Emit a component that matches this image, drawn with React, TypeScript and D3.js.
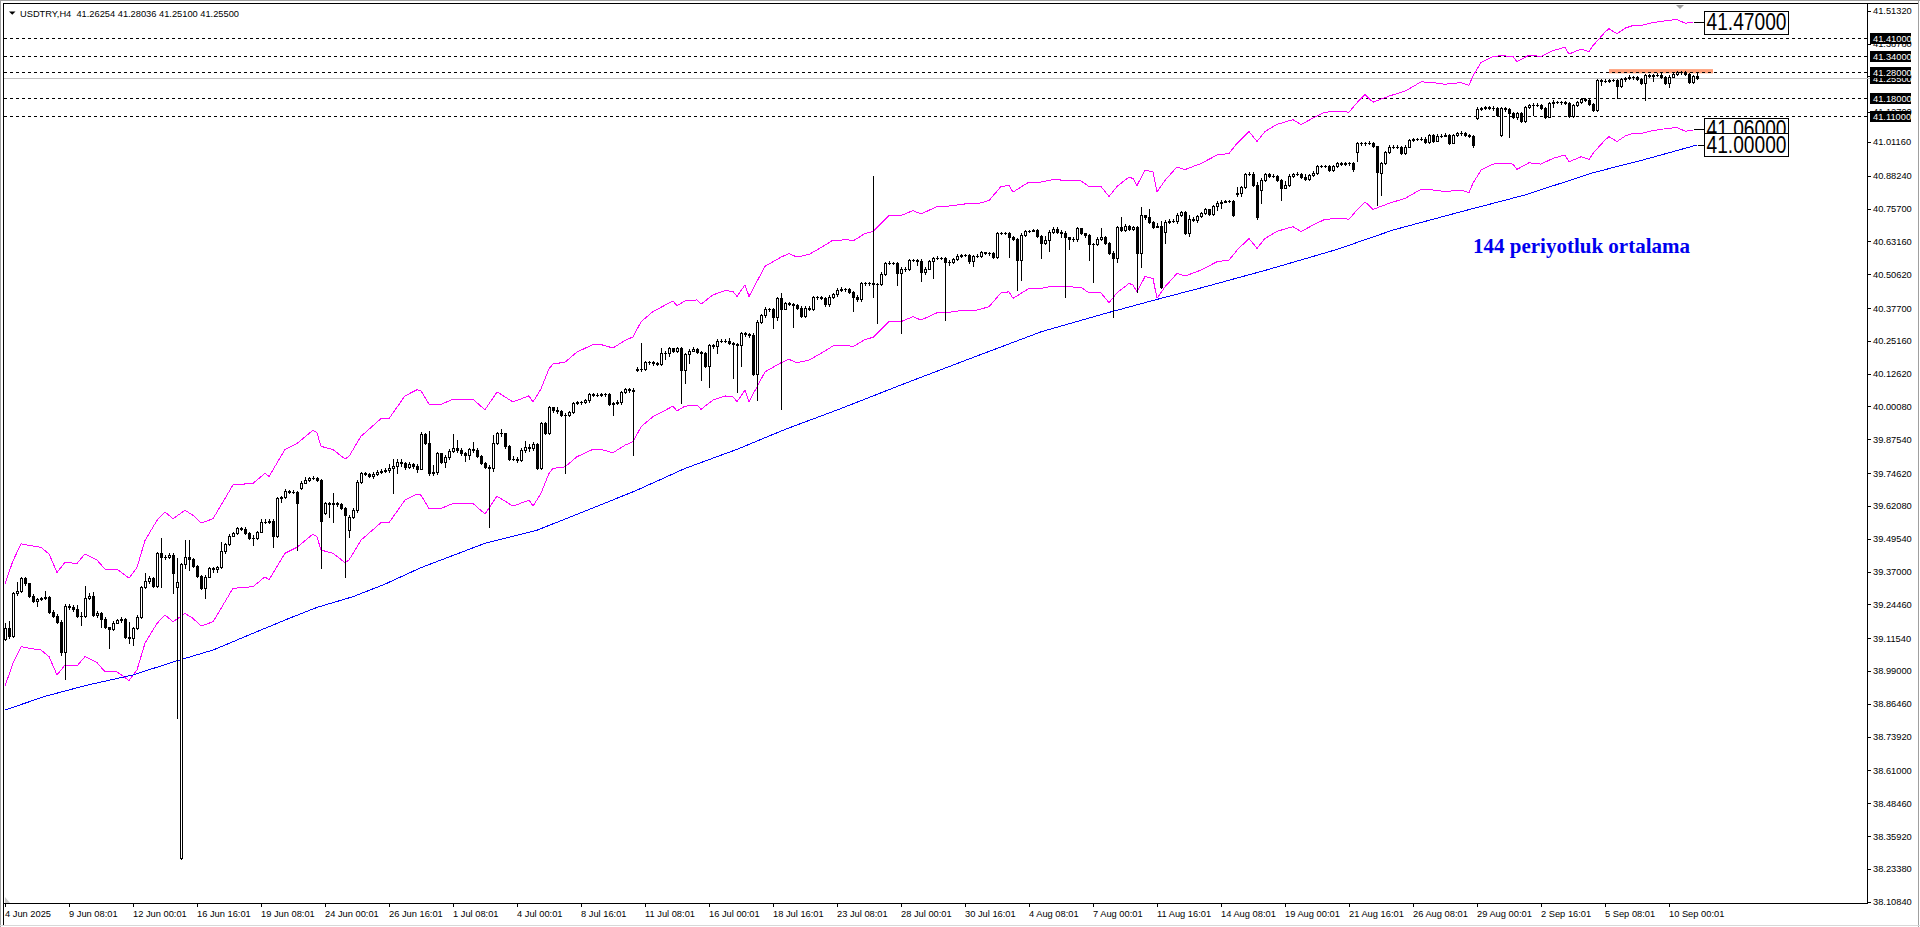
import React, { useEffect, useRef } from 'react';
import * as d3 from 'd3';

const W = 1920;
const H = 927;
const AXIS_X = 1867; // right price scale
const AXIS_Y = 903; // bottom time scale
const FONT = '"Liberation Sans", Arial, sans-serif';

// H4 candles, oldest first (4 Jun 2025 16:00 .. 11 Sep 2025 04:00)
const closes = [
  39.153, 39.125, 39.287, 39.297, 39.344, 39.325, 39.277, 39.259, 39.264, 39.268,
  39.271, 39.217, 39.201, 39.178, 39.064, 39.238, 39.236, 39.226, 39.201, 39.200,
  39.268, 39.277, 39.204, 39.213, 39.187, 39.157, 39.149, 39.175, 39.185, 39.187,
  39.121, 39.115, 39.153, 39.198, 39.310, 39.335, 39.344, 39.315, 39.440, 39.424,
  39.424, 39.433, 39.363, 39.331, 39.398, 39.427, 39.417, 39.391, 39.353, 39.306,
  39.350, 39.382, 39.378, 39.386, 39.450, 39.475, 39.507, 39.516, 39.535, 39.533,
  39.519, 39.499, 39.497, 39.522, 39.561, 39.561, 39.564, 39.506, 39.650, 39.654,
  39.679, 39.674, 39.674, 39.633, 39.710, 39.720, 39.726, 39.727, 39.720, 39.564,
  39.631, 39.628, 39.631, 39.627, 39.612, 39.586, 39.580, 39.605, 39.713, 39.745,
  39.743, 39.735, 39.743, 39.752, 39.755, 39.758, 39.765, 39.775, 39.790, 39.785,
  39.770, 39.780, 39.775, 39.762, 39.894, 39.862, 39.745, 39.751, 39.822, 39.790,
  39.806, 39.832, 39.844, 39.834, 39.822, 39.815, 39.837, 39.834, 39.811, 39.786,
  39.770, 39.764, 39.862, 39.898, 39.898, 39.849, 39.802, 39.802, 39.798, 39.834,
  39.847, 39.841, 39.857, 39.764, 39.936, 39.900, 39.997, 39.987, 39.984, 39.970,
  39.968, 39.979, 40.015, 40.018, 40.018, 40.024, 40.047, 40.046, 40.044, 40.047,
  40.047, 40.012, 40.015, 40.018, 40.057, 40.066, 40.063, 40.061, 40.144, 40.144,
  40.169, 40.169, 40.168, 40.163, 40.204, 40.207, 40.223, 40.214, 40.223, 40.140,
  40.201, 40.214, 40.219, 40.209, 40.206, 40.155, 40.234, 40.232, 40.252, 40.252,
  40.251, 40.244, 40.239, 40.235, 40.280, 40.277, 40.274, 40.125, 40.325, 40.350,
  40.375, 40.372, 40.344, 40.414, 40.375, 40.395, 40.392, 40.388, 40.379, 40.346,
  40.379, 40.375, 40.418, 40.418, 40.416, 40.391, 40.420, 40.430, 40.446, 40.449,
  40.448, 40.440, 40.420, 40.410, 40.474, 40.471, 40.471, 40.467, 40.469, 40.507,
  40.550, 40.550, 40.548, 40.512, 40.525, 40.525, 40.560, 40.560, 40.558, 40.516,
  40.528, 40.556, 40.569, 40.569, 40.568, 40.553, 40.554, 40.563, 40.576, 40.578,
  40.578, 40.555, 40.576, 40.577, 40.590, 40.588, 40.586, 40.573, 40.662, 40.662,
  40.662, 40.649, 40.640, 40.560, 40.656, 40.672, 40.672, 40.675, 40.652, 40.624,
  40.637, 40.669, 40.680, 40.667, 40.665, 40.647, 40.642, 40.639, 40.681, 40.662,
  40.655, 40.621, 40.621, 40.642, 40.647, 40.627, 40.588, 40.567, 40.685, 40.677,
  40.691, 40.680, 40.685, 40.586, 40.732, 40.723, 40.707, 40.688, 40.690, 40.458,
  40.707, 40.708, 40.711, 40.732, 40.745, 40.665, 40.719, 40.713, 40.728, 40.739,
  40.754, 40.736, 40.767, 40.779, 40.783, 40.786, 40.786, 40.732, 40.818, 40.838,
  40.889, 40.889, 40.847, 40.723, 40.866, 40.889, 40.881, 40.881, 40.866, 40.834,
  40.847, 40.883, 40.889, 40.889, 40.879, 40.870, 40.884, 40.894, 40.920, 40.920,
  40.920, 40.904, 40.920, 40.930, 40.927, 40.930, 40.930, 40.907, 41.006, 41.006,
  41.006, 41.009, 40.996, 40.898, 40.930, 40.974, 40.994, 40.994, 40.994, 40.968,
  40.994, 41.019, 41.022, 41.023, 41.024, 41.011, 41.038, 41.017, 41.034, 41.036,
  41.038, 41.009, 41.038, 41.045, 41.047, 41.038, 41.034, 41.000, 41.137, 41.140,
  41.144, 41.143, 41.140, 41.115, 41.140, 41.136, 41.121, 41.108, 41.121, 41.093,
  41.144, 41.153, 41.153, 41.153, 41.140, 41.108, 41.159, 41.166, 41.164, 41.163,
  41.162, 41.111, 41.153, 41.164, 41.174, 41.172, 41.157, 41.134, 41.248, 41.245,
  41.246, 41.247, 41.248, 41.225, 41.251, 41.255, 41.261, 41.259, 41.252, 41.236,
  41.267, 41.264, 41.267, 41.269, 41.261, 41.238, 41.261, 41.271, 41.280, 41.278,
  41.271, 41.242, 41.264, 41.255,
];

const highs = [
  39.172, 39.182, 39.293, 39.331, 39.350, 39.350, 39.325, 39.284, 39.268, 39.274,
  39.296, 39.277, 39.223, 39.208, 39.185, 39.245, 39.245, 39.242, 39.242, 39.217,
  39.315, 39.287, 39.293, 39.220, 39.217, 39.198, 39.159, 39.182, 39.190, 39.198,
  39.191, 39.178, 39.159, 39.203, 39.315, 39.363, 39.353, 39.348, 39.446, 39.497,
  39.433, 39.440, 39.440, 39.420, 39.401, 39.491, 39.491, 39.420, 39.395, 39.357,
  39.357, 39.386, 39.389, 39.391, 39.484, 39.480, 39.512, 39.522, 39.541, 39.539,
  39.539, 39.521, 39.508, 39.526, 39.570, 39.570, 39.570, 39.570, 39.654, 39.659,
  39.684, 39.682, 39.682, 39.679, 39.716, 39.733, 39.733, 39.735, 39.730, 39.722,
  39.637, 39.637, 39.671, 39.637, 39.631, 39.615, 39.586, 39.612, 39.720, 39.752,
  39.752, 39.748, 39.752, 39.758, 39.762, 39.764, 39.780, 39.800, 39.802, 39.800,
  39.790, 39.790, 39.785, 39.780, 39.904, 39.898, 39.908, 39.777, 39.828, 39.824,
  39.815, 39.837, 39.895, 39.872, 39.841, 39.828, 39.844, 39.866, 39.841, 39.815,
  39.790, 39.777, 39.891, 39.904, 39.913, 39.900, 39.853, 39.811, 39.809, 39.841,
  39.870, 39.857, 39.866, 39.862, 39.942, 39.942, 40.002, 40.000, 39.997, 39.987,
  39.974, 39.984, 40.019, 40.023, 40.023, 40.028, 40.051, 40.051, 40.051, 40.051,
  40.051, 40.051, 40.019, 40.025, 40.061, 40.071, 40.070, 40.070, 40.153, 40.242,
  40.173, 40.174, 40.173, 40.170, 40.223, 40.212, 40.227, 40.223, 40.229, 40.227,
  40.206, 40.219, 40.227, 40.223, 40.214, 40.210, 40.239, 40.239, 40.257, 40.257,
  40.257, 40.261, 40.248, 40.244, 40.285, 40.284, 40.282, 40.280, 40.331, 40.356,
  40.382, 40.379, 40.379, 40.420, 40.435, 40.400, 40.400, 40.397, 40.392, 40.384,
  40.384, 40.384, 40.423, 40.423, 40.423, 40.420, 40.425, 40.435, 40.453, 40.456,
  40.454, 40.452, 40.442, 40.427, 40.477, 40.477, 40.477, 40.881, 40.474, 40.516,
  40.554, 40.555, 40.554, 40.553, 40.532, 40.535, 40.565, 40.565, 40.565, 40.563,
  40.535, 40.560, 40.573, 40.574, 40.573, 40.572, 40.560, 40.568, 40.582, 40.583,
  40.583, 40.582, 40.581, 40.582, 40.595, 40.593, 40.592, 40.592, 40.667, 40.669,
  40.669, 40.669, 40.654, 40.646, 40.662, 40.677, 40.677, 40.680, 40.679, 40.656,
  40.652, 40.675, 40.685, 40.685, 40.675, 40.671, 40.649, 40.649, 40.688, 40.683,
  40.665, 40.660, 40.627, 40.647, 40.681, 40.652, 40.630, 40.596, 40.690, 40.726,
  40.697, 40.694, 40.690, 40.690, 40.762, 40.734, 40.755, 40.711, 40.703, 40.711,
  40.713, 40.716, 40.718, 40.739, 40.749, 40.748, 40.731, 40.726, 40.734, 40.744,
  40.759, 40.756, 40.772, 40.787, 40.790, 40.791, 40.791, 40.788, 40.838, 40.843,
  40.894, 40.897, 40.895, 40.860, 40.872, 40.894, 40.894, 40.889, 40.887, 40.871,
  40.862, 40.889, 40.894, 40.896, 40.893, 40.888, 40.889, 40.899, 40.925, 40.925,
  40.925, 40.924, 40.925, 40.935, 40.934, 40.935, 40.935, 40.934, 41.011, 41.013,
  41.011, 41.015, 41.013, 40.998, 40.935, 40.978, 40.999, 40.999, 41.000, 40.997,
  40.999, 41.024, 41.028, 41.028, 41.029, 41.031, 41.043, 41.041, 41.041, 41.041,
  41.045, 41.041, 41.043, 41.050, 41.052, 41.050, 41.042, 41.037, 41.144, 41.146,
  41.149, 41.149, 41.148, 41.144, 41.146, 41.144, 41.140, 41.126, 41.126, 41.125,
  41.149, 41.158, 41.159, 41.159, 41.158, 41.144, 41.164, 41.171, 41.169, 41.169,
  41.168, 41.166, 41.158, 41.169, 41.180, 41.178, 41.176, 41.162, 41.253, 41.253,
  41.252, 41.253, 41.253, 41.252, 41.256, 41.260, 41.266, 41.265, 41.264, 41.257,
  41.273, 41.271, 41.273, 41.274, 41.274, 41.265, 41.266, 41.276, 41.284, 41.284,
  41.281, 41.275, 41.269, 41.28036,
];

const lows = [
  39.108, 39.115, 39.121, 39.280, 39.293, 39.319, 39.274, 39.255, 39.238, 39.261,
  39.264, 39.213, 39.198, 39.172, 39.051, 38.958, 39.226, 39.221, 39.198, 39.166,
  39.198, 39.264, 39.200, 39.198, 39.159, 39.153, 39.079, 39.147, 39.172, 39.178,
  39.115, 39.096, 39.089, 39.149, 39.191, 39.306, 39.325, 39.310, 39.312, 39.310,
  39.417, 39.420, 39.287, 38.809, 38.270, 39.382, 39.376, 39.386, 39.348, 39.302,
  39.268, 39.348, 39.370, 39.370, 39.382, 39.440, 39.471, 39.506, 39.513, 39.529,
  39.513, 39.496, 39.471, 39.493, 39.520, 39.554, 39.557, 39.465, 39.503, 39.637,
  39.650, 39.669, 39.669, 39.452, 39.684, 39.707, 39.717, 39.722, 39.717, 39.382,
  39.590, 39.580, 39.561, 39.620, 39.608, 39.350, 39.503, 39.573, 39.599, 39.710,
  39.739, 39.730, 39.726, 39.739, 39.748, 39.752, 39.750, 39.671, 39.745, 39.775,
  39.760, 39.765, 39.765, 39.750, 39.760, 39.857, 39.739, 39.739, 39.742, 39.783,
  39.768, 39.802, 39.828, 39.828, 39.815, 39.793, 39.802, 39.828, 39.806, 39.781,
  39.764, 39.541, 39.755, 39.857, 39.888, 39.844, 39.798, 39.796, 39.790, 39.793,
  39.828, 39.832, 39.834, 39.760, 39.760, 39.895, 39.895, 39.981, 39.977, 39.964,
  39.745, 39.964, 39.974, 40.010, 40.012, 40.015, 40.019, 40.041, 40.041, 40.041,
  40.042, 40.006, 39.968, 40.010, 40.012, 40.053, 40.058, 39.815, 40.137, 40.137,
  40.140, 40.163, 40.161, 40.158, 40.160, 40.184, 40.193, 40.209, 40.209, 40.015,
  40.089, 40.168, 40.214, 40.204, 40.102, 40.150, 40.076, 40.226, 40.207, 40.247,
  40.246, 40.239, 40.108, 40.057, 40.155, 40.272, 40.267, 40.121, 40.025, 40.321,
  40.344, 40.367, 40.299, 40.331, 39.993, 40.372, 40.387, 40.303, 40.374, 40.341,
  40.341, 40.369, 40.369, 40.412, 40.411, 40.386, 40.386, 40.416, 40.423, 40.443,
  40.443, 40.435, 40.367, 40.405, 40.405, 40.465, 40.465, 40.420, 40.318, 40.465,
  40.503, 40.545, 40.544, 40.465, 40.283, 40.520, 40.522, 40.555, 40.542, 40.481,
  40.507, 40.525, 40.490, 40.565, 40.564, 40.331, 40.541, 40.550, 40.560, 40.573,
  40.574, 40.550, 40.537, 40.573, 40.573, 40.584, 40.581, 40.568, 40.570, 40.658,
  40.658, 40.573, 40.637, 40.446, 40.484, 40.652, 40.668, 40.670, 40.647, 40.570,
  40.621, 40.596, 40.665, 40.662, 40.647, 40.420, 40.601, 40.634, 40.634, 40.658,
  40.649, 40.560, 40.477, 40.618, 40.637, 40.621, 40.583, 40.344, 40.554, 40.672,
  40.672, 40.675, 40.677, 40.439, 40.532, 40.718, 40.703, 40.684, 40.685, 40.452,
  40.624, 40.703, 40.705, 40.703, 40.728, 40.660, 40.652, 40.708, 40.707, 40.723,
  40.736, 40.731, 40.731, 40.751, 40.758, 40.781, 40.781, 40.728, 40.807, 40.807,
  40.834, 40.884, 40.843, 40.718, 40.777, 40.864, 40.876, 40.876, 40.861, 40.790,
  40.838, 40.843, 40.876, 40.884, 40.874, 40.866, 40.866, 40.881, 40.889, 40.915,
  40.915, 40.899, 40.902, 40.915, 40.922, 40.925, 40.925, 40.902, 40.939, 41.000,
  41.001, 41.004, 40.991, 40.771, 40.809, 40.927, 40.971, 40.989, 40.989, 40.964,
  40.964, 40.991, 41.017, 41.018, 41.019, 41.006, 41.009, 41.011, 41.014, 41.031,
  41.033, 41.005, 41.006, 41.036, 41.038, 41.033, 41.029, 40.994, 41.098, 41.134,
  41.137, 41.136, 41.134, 41.111, 41.034, 41.131, 41.032, 41.103, 41.101, 41.088,
  41.088, 41.140, 41.115, 41.148, 41.136, 41.104, 41.106, 41.144, 41.159, 41.158,
  41.157, 41.107, 41.108, 41.149, 41.162, 41.167, 41.153, 41.129, 41.131, 41.229,
  41.239, 41.242, 41.243, 41.178, 41.220, 41.246, 41.251, 41.253, 41.248, 41.232,
  41.172, 41.259, 41.246, 41.264, 41.256, 41.233, 41.220, 41.259, 41.266, 41.273,
  41.266, 41.238, 41.238, 41.251,
];

// bars whose open is not the previous close: [bar, open]
const openGaps: [number, number][] = [
  [0, 39.111], [43, 39.31], [44, 38.274], [74, 39.688], [80, 39.592], [86, 39.529],
  [158, 40.14], [290, 40.669], [308, 40.812], [314, 40.828], [338, 40.974],
  [344, 40.892], [368, 41.102], [374, 41.038], [423, 41.26254],
];

// Envelopes (0.5%): lower line
const envBars = [
  0, 2, 4, 6, 9, 11, 13, 15, 18, 20, 23, 25, 28, 31, 33, 35, 38, 40, 42, 45, 47, 49, 52, 57,
  62, 65, 66, 70, 73, 77, 78, 79, 82, 85, 86, 89, 94, 96, 100, 103, 104, 106, 109, 112, 117,
  120, 123, 127, 131, 132, 134, 136, 137, 140, 143, 147, 149, 152, 155, 157, 159, 162, 167,
  168, 170, 173, 174, 177, 180, 182, 183, 185, 186, 190, 194, 196, 198, 201, 204, 207, 211,
  212, 215, 217, 221, 224, 227, 229, 233, 235, 240, 243, 246, 249, 251, 252, 256, 259, 262,
  266, 269, 271, 274, 276, 278, 281, 282, 283, 285, 287, 288, 290, 293, 295, 299, 303, 306,
  308, 311, 313, 315, 318, 322, 324, 327, 330, 334, 336, 338, 340, 342, 346, 350, 352, 354,
  357, 360, 364, 366, 367, 369, 372, 374, 377, 378, 381, 384, 387, 390, 391, 394, 396, 397,
  400, 401, 403, 405, 407, 409, 412, 414, 418, 420, 422,
];
const envLower = [
  38.933, 39.019, 39.083, 39.077, 39.070, 39.045, 38.975, 39.013, 39.009, 39.045, 39.022,
  38.987, 38.987, 38.953, 38.994, 39.096, 39.172, 39.204, 39.178, 39.210, 39.191, 39.162,
  39.178, 39.306, 39.312, 39.350, 39.338, 39.440, 39.463, 39.513, 39.503, 39.452, 39.440,
  39.404, 39.414, 39.490, 39.557, 39.557, 39.643, 39.666, 39.662, 39.611, 39.611, 39.630,
  39.630, 39.590, 39.658, 39.620, 39.643, 39.620, 39.669, 39.745, 39.764, 39.770, 39.809,
  39.837, 39.837, 39.824, 39.853, 39.866, 39.923, 39.962, 40.002, 39.984, 40.002, 40.006,
  39.990, 40.025, 40.041, 40.038, 40.019, 40.063, 40.019, 40.133, 40.168, 40.181, 40.168,
  40.178, 40.204, 40.232, 40.233, 40.229, 40.257, 40.265, 40.325, 40.325, 40.344, 40.331,
  40.359, 40.359, 40.369, 40.369, 40.382, 40.435, 40.439, 40.414, 40.452, 40.452, 40.461,
  40.458, 40.456, 40.435, 40.435, 40.397, 40.435, 40.471, 40.465, 40.439, 40.497, 40.490,
  40.414, 40.458, 40.509, 40.499, 40.522, 40.554, 40.560, 40.598, 40.643, 40.605, 40.643,
  40.670, 40.688, 40.669, 40.694, 40.716, 40.720, 40.716, 40.752, 40.783, 40.754, 40.777,
  40.796, 40.813, 40.831, 40.828, 40.822, 40.828, 40.818, 40.854, 40.904, 40.927, 40.930,
  40.927, 40.907, 40.932, 40.927, 40.949, 40.962, 40.936, 40.955, 40.945, 40.968, 41.019,
  41.032, 41.013, 41.034, 41.044, 41.044, 41.055, 41.060, 41.067, 41.053, 41.055,
];
const envDeviation = 0.005;

// 144-period moving average
const maBars = [
  0, 10, 20, 32, 43, 52, 62, 71, 78, 87, 95, 104, 120, 133, 146, 158, 170, 183, 195, 209,
  225, 242, 259, 275, 288, 300, 316, 333, 347, 364, 380, 397, 410, 423,
];
const ma144 = [
  38.841, 38.893, 38.934, 38.975, 39.029, 39.070, 39.134, 39.191, 39.233, 39.274, 39.322,
  39.385, 39.478, 39.528, 39.607, 39.681, 39.764, 39.837, 39.913, 39.993, 40.089, 40.188,
  40.286, 40.356, 40.410, 40.458, 40.525, 40.601, 40.675, 40.745, 40.809, 40.894, 40.945,
  41.0,
];

const priceTicks = [
  41.5132, 41.3878, 41.2624, 41.127, 41.0116, 40.8824, 40.757, 40.6316, 40.5062, 40.377,
  40.2516, 40.1262, 40.0008, 39.8754, 39.7462, 39.6208, 39.4954, 39.37, 39.2446, 39.1154,
  38.99, 38.8646, 38.7392, 38.61, 38.4846, 38.3592, 38.2338, 38.1084,
];

// one time label every 16 bars
const TIME_STEP = 16;
const timeLabels = [
  '4 Jun 2025', '9 Jun 08:01', '12 Jun 00:01', '16 Jun 16:01', '19 Jun 08:01', '24 Jun 00:01',
  '26 Jun 16:01', '1 Jul 08:01', '4 Jul 00:01', '8 Jul 16:01', '11 Jul 08:01', '16 Jul 00:01',
  '18 Jul 16:01', '23 Jul 08:01', '28 Jul 00:01', '30 Jul 16:01', '4 Aug 08:01', '7 Aug 00:01',
  '11 Aug 16:01', '14 Aug 08:01', '19 Aug 00:01', '21 Aug 16:01', '26 Aug 08:01', '29 Aug 00:01',
  '2 Sep 16:01', '5 Sep 08:01', '10 Sep 00:01',
];

const dashedLevels = [41.41, 41.34, 41.28, 41.18, 41.11];
const bidPrice = 41.255;
const priceTags = [41.47, 41.06, 41.0];
const zoneBars = [401, 427];
const zonePrices = [41.274, 41.29];
const title = 'USDTRY,H4  41.26254 41.28036 41.25100 41.25500';
const maNote = '144 periyotluk ortalama';

const last = closes.length - 1;
const xScale = d3.scaleLinear().domain([0, last]).range([5, 5 + 4 * last]);
const yScale = d3.scaleLinear().domain([38.1084, 41.5132]).range([901.7, 10.7]);

const gapMap = new Map(openGaps);
const openOf = (i: number) => gapMap.get(i) ?? (i > 0 ? closes[i - 1] : closes[0]);

const envMid = envLower.map((v) => v / (1 - envDeviation));
const envUpper = envMid.map((v) => v * (1 + envDeviation));

const envLine = d3
  .line<number>()
  .x((_, k) => xScale(envBars[k]))
  .y((v) => yScale(v));
const maLine = d3
  .line<number>()
  .x((_, k) => xScale(maBars[k]))
  .y((v) => yScale(v));

export default function App() {
  const yAxisRef = useRef<SVGGElement | null>(null);
  const xAxisRef = useRef<SVGGElement | null>(null);

  useEffect(() => {
    if (yAxisRef.current) {
      const g = d3.select(yAxisRef.current);
      g.selectAll('*').remove();
      g.call(
        d3
          .axisRight(yScale)
          .tickValues(priceTicks)
          .tickFormat((d) => (+d).toFixed(5))
          .tickSize(4)
          .tickPadding(2) as any
      );
      g.select('.domain').remove();
      g.attr('font-family', FONT).attr('font-size', 9.3);
      g.selectAll('line').attr('stroke', '#000').attr('shape-rendering', 'crispEdges');
      g.selectAll('text').attr('fill', '#000');
    }
    if (xAxisRef.current) {
      const g = d3.select(xAxisRef.current);
      g.selectAll('*').remove();
      g.call(
        d3
          .axisBottom(xScale)
          .tickValues(timeLabels.map((_, k) => k * TIME_STEP))
          .tickFormat((_, k) => timeLabels[k])
          .tickSize(4)
          .tickPadding(3) as any
      );
      g.select('.domain').remove();
      g.attr('font-family', FONT).attr('font-size', 9.3);
      g.selectAll('line').attr('stroke', '#000').attr('shape-rendering', 'crispEdges');
      g.selectAll('text').attr('fill', '#000').attr('text-anchor', 'start').attr('x', -0.5);
    }
  }, []);

  const candles = closes.map((c, i) => {
    const o = openOf(i);
    const hi = Math.max(highs[i], o, c);
    const lo = Math.min(lows[i], o, c);
    const cx = Math.round(xScale(i));
    const yh = Math.round(yScale(hi));
    const yl = Math.round(yScale(lo));
    const top = Math.round(yScale(Math.max(o, c)));
    const bot = Math.round(yScale(Math.min(o, c)));
    const bull = c >= o;
    return (
      <g key={i}>
        <line x1={cx + 0.5} x2={cx + 0.5} y1={yh} y2={yl + 1} stroke="#000" />
        {top === bot ? (
          <line x1={cx - 1} x2={cx + 2} y1={top + 0.5} y2={top + 0.5} stroke="#000" />
        ) : (
          <rect
            x={cx - 0.5}
            y={top + 0.5}
            width={2}
            height={bot - top}
            fill={bull ? '#fff' : '#000'}
            stroke="#000"
          />
        )}
      </g>
    );
  });

  const tagX = 1704;
  const tagW = 84;
  const tagH = 23;
  const envEnd = xScale(envBars[envBars.length - 1]);
  const tagStubs = [envEnd, envEnd, xScale(maBars[maBars.length - 1])];

  // the 41.28 label sits on top of the bid label
  const blackLabels = [bidPrice, 41.41, 41.34, 41.18, 41.11, 41.28];

  return (
    <svg
      width={W}
      height={H}
      viewBox={`0 0 ${W} ${H}`}
      style={{ position: 'absolute', left: 0, top: 0, display: 'block', background: '#fff' }}
    >
      <rect x={0} y={0} width={W} height={H} fill="#fff" />

      {/* window frame */}
      <g shapeRendering="crispEdges">
        <line x1={0} x2={W} y1={0.5} y2={0.5} stroke="#a0a0a0" />
        <line x1={0.5} x2={0.5} y1={0} y2={H} stroke="#a0a0a0" />
        <line x1={1918.5} x2={1918.5} y1={0} y2={H} stroke="#a0a0a0" />
        <line x1={0} x2={W} y1={925.5} y2={925.5} stroke="#d8d8d8" />
        <line x1={3} x2={1918} y1={3.5} y2={3.5} stroke="#000" />
        <line x1={3.5} x2={3.5} y1={3} y2={925} stroke="#000" />
        <line x1={AXIS_X + 0.5} x2={AXIS_X + 0.5} y1={3} y2={AXIS_Y + 1} stroke="#000" />
        <line x1={3} x2={AXIS_X + 1} y1={AXIS_Y + 0.5} y2={AXIS_Y + 0.5} stroke="#000" />
      </g>

      {/* drawn zone */}
      <rect
        x={xScale(zoneBars[0])}
        y={yScale(zonePrices[1])}
        width={xScale(zoneBars[1]) - xScale(zoneBars[0])}
        height={yScale(zonePrices[0]) - yScale(zonePrices[1])}
        fill="#ffa07a"
      />

      {/* levels */}
      <g shapeRendering="crispEdges">
        {dashedLevels.map((p) => (
          <line
            key={p}
            x1={4}
            x2={AXIS_X}
            y1={Math.round(yScale(p)) + 0.5}
            y2={Math.round(yScale(p)) + 0.5}
            stroke="#000"
            strokeDasharray="3,3"
          />
        ))}
        <line
          x1={4}
          x2={AXIS_X + 3}
          y1={Math.round(yScale(bidPrice)) + 0.5}
          y2={Math.round(yScale(bidPrice)) + 0.5}
          stroke="#c0c0c0"
        />
      </g>

      {/* indicators */}
      <g shapeRendering="crispEdges" fill="none" strokeWidth={1}>
        <path d={envLine(envUpper) ?? ''} stroke="#ff00ff" />
        <path d={envLine(envLower) ?? ''} stroke="#ff00ff" />
        <path d={maLine(ma144) ?? ''} stroke="#0000ff" />
      </g>

      <g shapeRendering="crispEdges">{candles}</g>

      {/* price tags */}
      {priceTags.map((p, k) => {
        const yc = yScale(p);
        return (
          <g key={p}>
            <line x1={tagStubs[k] + 1} x2={tagX} y1={Math.round(yc) + 0.5} y2={Math.round(yc) + 0.5} stroke="#000" shapeRendering="crispEdges" />
            <rect x={tagX + 0.5} y={Math.round(yc - tagH / 2) + 0.5} width={tagW} height={tagH} fill="#fff" stroke="#000" shapeRendering="crispEdges" />
            <text
              x={tagX + 2.5}
              y={yc + 8.2}
              fontFamily={FONT}
              fontSize={23}
              textLength={80}
              lengthAdjust="spacingAndGlyphs"
              fill="#000"
            >
              {p.toFixed(5)}
            </text>
          </g>
        );
      })}

      <text x={1473} y={253.3} fontFamily='"Liberation Serif", "Times New Roman", serif' fontWeight="bold" fontSize={21} fill="#0000ee" textLength={217} lengthAdjust="spacingAndGlyphs">
        {maNote}
      </text>

      {/* header */}
      <polygon points="9,11.5 15.5,11.5 12.25,14.8" fill="#000" />
      <text x={20} y={16.6} fontFamily={FONT} fontSize={9.3} fill="#000" textLength={219} style={{ whiteSpace: 'pre' }}>
        {title}
      </text>
      <polygon points="1676,5 1684,5 1680,9" fill="#a0a0a0" />
      <polygon points="5,897 5,903 10,903" fill="#c8c8c8" />

      {/* axes */}
      <g ref={yAxisRef} transform={`translate(${AXIS_X},0)`} />
      <g ref={xAxisRef} transform={`translate(0,${AXIS_Y})`} />

      {/* level labels on the price scale */}
      {blackLabels.map((p) => {
        const yc = Math.round(yScale(p));
        return (
          <g key={'lbl' + p}>
            <rect x={1870} y={yc - 5} width={41} height={10.5} fill="#000" shapeRendering="crispEdges" />
            <text x={1873} y={yc + 3.6} fontFamily={FONT} fontSize={9.3} fill="#fff">
              {p.toFixed(5)}
            </text>
          </g>
        );
      })}
    </svg>
  );
}
